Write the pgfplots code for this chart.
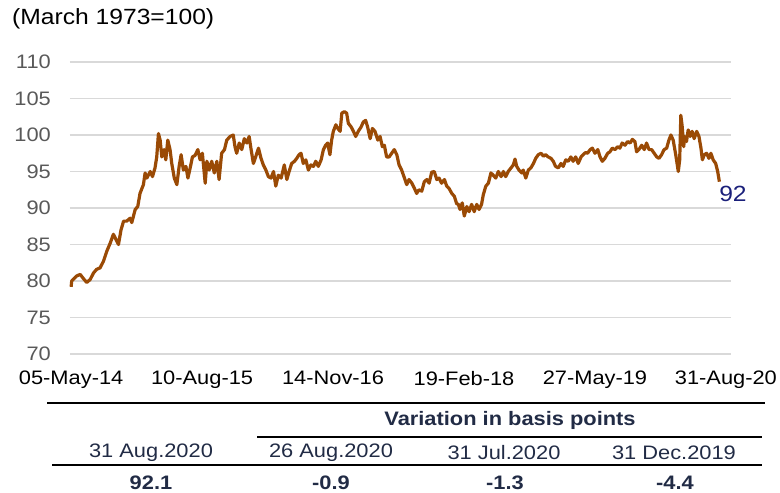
\documentclass[border=0pt]{standalone}
\usepackage{fontspec}
\setmainfont{Liberation Sans}[FakeStretch=1.12]
\usepackage{pgfplots}
\pgfplotsset{compat=1.18}
\definecolor{dxline}{HTML}{9A4A05}
\definecolor{gridc}{HTML}{D9D9D9}
\definecolor{ticky}{HTML}{595959}
\definecolor{tabtxt}{HTML}{212B45}
\definecolor{lastlab}{HTML}{1A1F7A}
\newcommand{\tfs}{\fontsize{19.5}{22}\selectfont}

\begin{document}
\begin{tikzpicture}
\useasboundingbox (0,0) rectangle (780pt,-493pt);
\begin{axis}[
  at={(70pt,-354pt)}, anchor=south west,
  scale only axis, width=661pt, height=292pt,
  xmin=-4, xmax=2328, ymin=70, ymax=110,
  clip=false,
  axis line style={draw=none},
  major tick length=0pt,
  ymajorgrids, grid style={gridc, line width=1.3pt},
  ytick={70,75,80,85,90,95,100,105,110},
  xtick={0,462,924,1386,1848,2310},
  xticklabels={05-May-14,10-Aug-15,14-Nov-16,19-Feb-18,27-May-19,31-Aug-20},
  /pgf/number format/assume math mode=true,
  yticklabel style={font=\tfs, text=ticky, inner sep=0pt, anchor=east, xshift=-19pt},
  xticklabel style={font=\tfs, text=black, inner sep=0pt, anchor=north, yshift=-17pt},
]
\addplot[dxline, line width=3.2pt, line join=round] coordinates {
(0,79.2) (2,80.0) (20,80.7) (32,80.9) (44,80.3) (55,79.8) (67,80.2) (79,81.1)
(90,81.6) (102,81.8) (114,82.7) (126,84.1) (138,85.2) (149,86.4) (158,85.7)
(167,85.0) (176,87.0) (185,88.2) (196,88.2) (208,88.6) (214,88.0) (226,89.8)
(235,90.2) (243,92.0) (255,93.2) (261,94.8) (267,94.1) (279,95.0) (287,94.3)
(296,95.5) (302,97.0) (308,100.2) (314,99.3) (320,97.0) (328,98.0) (334,96.6)
(341,99.3) (349,98.0) (355,96.1) (364,94.1) (373,93.2) (381,95.7) (388,97.3)
(396,95.2) (405,95.7) (412,94.1) (420,95.5) (428,97.0) (437,97.2) (447,98.0)
(455,96.6) (463,97.5) (473,93.4) (479,96.4) (487,95.2) (496,96.4) (505,94.8)
(514,96.4) (522,93.9) (531,97.5) (541,98.0) (549,99.3) (561,99.8) (572,100.0)
(578,98.4) (584,97.5) (593,98.9) (602,98.0) (611,99.5) (620,98.9) (628,99.8)
(635,98.0) (643,96.1) (651,97.0) (661,98.2) (670,96.8) (678,95.9) (687,95.2)
(696,94.3) (705,94.1) (714,95.0) (722,93.0) (731,94.5) (741,94.1) (752,95.9)
(761,93.9) (769,95.0) (778,96.1) (788,96.4) (796,96.8) (804,97.3) (811,97.5)
(819,96.1) (828,96.6) (837,95.2) (846,95.9) (855,95.7) (863,96.4) (872,95.7)
(882,96.6) (890,98.0) (898,98.6) (905,98.9) (913,97.3) (919,99.3) (925,100.5)
(934,101.4) (941,100.9) (949,100.5) (955,103.0) (964,103.2) (972,103.0)
(978,101.6) (988,101.1) (996,100.5) (1004,99.8) (1013,100.5) (1023,101.1)
(1031,101.8) (1039,102.0) (1046,101.1) (1055,99.5) (1063,100.9) (1072,100.5)
(1082,99.3) (1090,99.8) (1098,98.4) (1105,98.6) (1113,97.0) (1122,97.0)
(1131,97.5) (1140,98.0) (1149,97.3) (1157,95.9) (1166,95.2) (1176,94.1)
(1184,93.2) (1192,93.9) (1202,93.4) (1211,92.7) (1219,92.0) (1227,92.5)
(1237,92.3) (1246,93.6) (1255,93.9) (1263,93.4) (1272,94.9) (1281,95.0)
(1290,93.9) (1298,94.1) (1307,93.4) (1317,93.9) (1325,93.0) (1333,92.7)
(1343,92.0) (1352,91.6) (1360,90.6) (1366,90.5) (1372,89.8) (1380,90.7)
(1387,88.9) (1396,90.2) (1404,89.5) (1413,90.5) (1422,89.5) (1431,90.5)
(1439,89.8) (1448,90.5) (1454,91.8) (1463,93.0) (1472,93.4) (1481,94.8)
(1489,94.5) (1498,94.1) (1507,95.0) (1517,94.3) (1525,95.0) (1533,94.3)
(1542,95.0) (1552,95.5) (1560,95.9) (1566,96.7) (1572,95.7) (1580,95.2)
(1590,94.8) (1595,95.2) (1604,94.1) (1613,95.2) (1622,95.5) (1631,96.1)
(1639,96.8) (1648,97.3) (1658,97.5) (1666,97.1) (1674,97.3) (1683,97.0)
(1693,96.8) (1701,96.4) (1709,95.7) (1719,95.5) (1728,96.1) (1736,95.7)
(1745,96.6) (1754,96.4) (1763,97.0) (1771,96.4) (1780,97.0) (1789,96.1)
(1799,97.0) (1806,97.3) (1815,97.6) (1822,97.5) (1831,98.0) (1839,98.2)
(1848,97.5) (1858,98.0) (1866,97.0) (1874,96.4) (1883,96.8) (1893,97.5)
(1901,97.7) (1909,98.2) (1919,98.0) (1928,98.4) (1936,98.2) (1944,98.9)
(1954,98.6) (1963,99.1) (1972,98.9) (1980,99.4) (1989,99.1) (1995,97.7)
(2003,98.0) (2013,98.6) (2022,98.0) (2030,98.9) (2039,98.0) (2048,98.0)
(2057,97.5) (2066,97.0) (2074,96.8) (2083,97.3) (2092,98.0) (2101,98.2)
(2109,99.3) (2116,100.0) (2124,99.3) (2133,97.3) (2142,95.0) (2147,96.6)
(2151,102.7) (2156,101.1) (2161,98.4) (2165,99.8) (2171,99.1) (2177,100.7)
(2184,99.8) (2191,100.5) (2198,99.5) (2207,100.5) (2215,99.8) (2222,98.2)
(2227,96.6) (2234,97.3) (2242,97.5) (2250,96.8) (2257,97.5) (2265,96.6)
(2274,96.1) (2281,95.0) (2287,93.6)
};
\node[font=\fontsize{22}{24}\selectfont, text=lastlab, anchor=west, inner sep=0pt] at (axis cs:2286,91.9) {92};
\end{axis}

% title
\node[font=\fontsize{22}{24}\selectfont, anchor=west, inner sep=0pt] at (12pt,-19pt) {(March 1973=100)};

% table below the chart
\draw[black, line width=2.2pt] (47pt,-403pt) -- (765pt,-403pt);
\draw[black, line width=2.2pt] (257pt,-437pt) -- (762pt,-437pt);
\draw[black, line width=2.2pt] (52pt,-465pt) -- (762pt,-465pt);
\begin{scope}[every node/.style={font=\tfs, text=tabtxt, inner sep=0pt}]
\node[font=\tfs\bfseries] at (510pt,-420pt) {Variation in basis points};
\node at (151pt,-453pt) {31 Aug.2020};
\node at (331pt,-453pt) {26 Aug.2020};
\node at (504pt,-453pt) {31 Jul.2020};
\node at (674pt,-453pt) {31 Dec.2019};
\node[font=\tfs\bfseries] at (151pt,-483pt) {92.1};
\node[font=\tfs\bfseries] at (331pt,-483pt) {-0.9};
\node[font=\tfs\bfseries] at (505pt,-483pt) {-1.3};
\node[font=\tfs\bfseries] at (675pt,-483pt) {-4.4};
\end{scope}
\end{tikzpicture}
\end{document}
